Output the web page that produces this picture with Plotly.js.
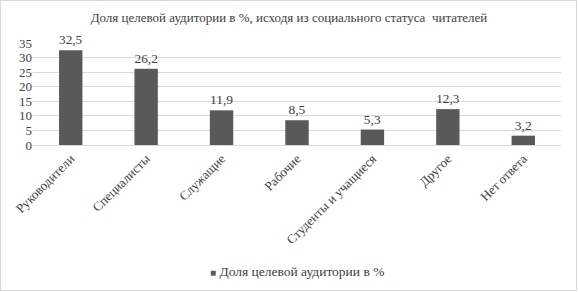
<!DOCTYPE html>
<html><head><meta charset="utf-8">
<script src="https://cdn.plot.ly/plotly-3.0.1.min.js"></script>
<style>
html,body{margin:0;padding:0;background:#fff;}
#wrap{position:relative;width:578px;height:292px;}
#chart{width:578px;height:292px;}
#chart text, #chart tspan{font-family:"Liberation Serif","Times New Roman",serif !important;}
#frame{position:absolute;left:0;top:0;width:575px;height:289px;border:1px solid #d9d9d9;pointer-events:none;}
</style></head>
<body>
<div id="wrap"><div id="chart"></div><div id="frame"></div></div>
<script>
const categories = ["Руководители","Специалисты","Служащие","Рабочие","Студенты и учащиеся","Другое","Нет ответа"];
const values = [32.5, 26.2, 11.9, 8.5, 5.3, 12.3, 3.2];
const valueLabels = ["32,5","26,2","11,9","8,5","5,3","12,3","3,2"];
const seriesName = "Доля целевой аудитории в %";
const titleText = "Доля целевой аудитории в %, исходя из социального статуса  читателей";
const yTicks = [0,5,10,15,20,25,30,35];

const font = "Liberation Serif";
const col = "#404040";
Plotly.newPlot("chart", [{
  type: "bar",
  x: categories,
  y: values,
  name: seriesName,
  showlegend: false,
  text: valueLabels,
  textposition: "outside",
  cliponaxis: false,
  textfont: {family: font, size: 13.5, color: col},
  marker: {color: "#595959"},
  width: 0.31
}], {
  width: 578, height: 292,
  margin: {l: 33, r: 17, t: 43, b: 147},
  paper_bgcolor: "#fff", plot_bgcolor: "#fff",
  font: {family: font, size: 13, color: col},
  title: {text: titleText, x: 0.5, xanchor: "center", y: 0.94, yanchor: "middle",
          font: {family: font, size: 13, color: col}},
  showlegend: false,
  annotations: [{
    text: '<span style="font-size:10px;color:#595959">■</span> ' + seriesName,
    xref: "paper", yref: "paper", x: 0.5, xanchor: "center", y: -1.236, yanchor: "middle",
    showarrow: false, font: {family: font, size: 13.5, color: col}
  }],
  xaxis: {tickangle: -45, showgrid: false, showline: true, linecolor: "#d9d9d9",
          ticks: "", tickfont: {family: font, size: 13, color: col}},
  yaxis: {range: [0, 35], tickvals: yTicks, showgrid: true, gridcolor: "#d9d9d9",
          zeroline: false, showline: false, ticks: "",
          tickfont: {family: font, size: 13, color: col}},
  bargap: 0.69
}, {displayModeBar: false, staticPlot: true});
</script>
</body></html>
